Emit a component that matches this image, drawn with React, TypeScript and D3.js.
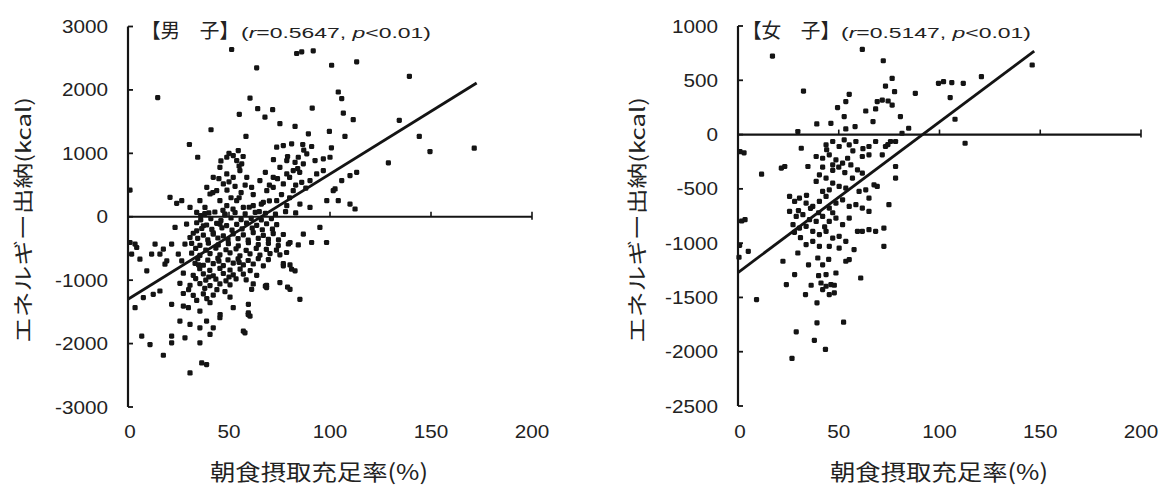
import React from "react";
import * as d3 from "d3";

type Pt = [number, number];

// x: 朝食摂取充足率(%), y: エネルギー出納(kcal)
const xTicks = [0, 50, 100, 150, 200];
const boysYTicks = [3000, 2000, 1000, 0, -1000, -2000, -3000];
const girlsYTicks = [1000, 500, 0, -500, -1000, -1500, -2000, -2500];

const boysR = "0.5647";
const girlsR = "0.5147";
const pValue = "0.01";

// regression lines (start, end)
const boysFit: Pt[] = [[0, -1300], [172.6, 2109]];
const girlsFit: Pt[] = [[0, -1271], [147, 769]];

const boysPoints: Pt[] = [
  // upper area
  [51.3, 2637], [63.7, 2347], [83.5, 2574], [86, 2600], [91.7, 2616], [100.8, 2389], [14.7, 1878],
  [60.4, 1872], [64.2, 1704], [67.8, 1571], [71.6, 1688], [55.1, 1614], [91.2, 1714], [41.1, 1372],
  [58.4, 1266], [75.2, 1467], [82.7, 1424], [89.3, 1308], [99.7, 1345], [30.4, 1139], [34.5, 938],
  [100.7, 1087], [100, 938], [54.6, 1044], [52.1, 965], [48.9, 938], [53.8, 886], [56.3, 834],
  [73.6, 1097], [76.9, 1123], [81, 1150], [86.5, 1139], [90.9, 1108], [78.6, 886], [82.7, 859],
  [86.8, 834], [84.3, 938], [88.5, 992], [92.6, 886], [96.7, 913], [45.5, 780], [48.9, 675],
  [52.1, 622], [47.2, 517], [42.2, 622], [39, 464], [43.9, 411], [55.4, 728], [58.8, 622],
  [61.2, 464], [65.3, 570], [68.7, 411], [71.9, 622], [75.2, 780], [78.6, 675], [81.8, 728],
  [71.9, 464], [76.9, 517], [81.8, 411], [86, 543], [90.1, 570], [93.4, 675], [96.7, 728],
  [40.6, 359], [35.6, 253], [30.7, 147], [34, 68], [38.1, 147], [20.8, 306], [24.1, 211],
  [26.6, 253], [101.6, 411], [104.1, 253], [98.4, 253], [85.1, 200], [90.1, 147], [78.6, 174],
  [73.6, 253], [67, 227], [62, 174], [57.1, 147], [53.8, 253], [48.9, 174], [45.5, 253],
  [45, 600], [50, 550], [42, 380], [55, 300], [60, 150], [65, 80], [70, 250], [62, 350],
  [58, 500], [68, 700], [72, 900], [80, 620], [84, 760], [88, 450], [76, 350], [66, 200],
  [52, 120], [40, 60], [36, 20], [48, 30], [1, 420],
  [38, 50], [43, 75], [48, 40], [53, 65], [58, 45], [63, 70], [68, 55], [73, 40], [78, 80], [83, 60],
  [47, 100], [51, 300], [49, 420], [53, 480], [56, 380], [46, 880], [50, 1000], [57, 950],
  [55, 800], [80, 300], [83, 500], [85, 700], [79, 950], [87, 1050], [74, 600], [70, 500],
  // right side
  [113.2, 2442], [139.3, 2215], [104.1, 1967], [105.8, 1862], [106.6, 1635], [111.5, 1530],
  [107.4, 1266], [134.3, 1519], [144.2, 1266], [149.5, 1028], [171.4, 1081], [128.9, 850],
  [113.2, 701], [109.9, 649], [105.8, 570], [102.5, 438], [109.9, 200], [112.4, 122],
  // below zero
  [23.3, -169], [29, -116], [34, -222], [30.7, -327], [37.3, -142], [42.2, -274], [45.5, -116],
  [1, -406], [3.5, -432], [1.8, -590], [5.9, -669], [9.3, -854], [4.3, -485],
  [13.4, -432], [17.5, -511], [21.6, -432], [15.8, -590], [11.7, -590], [19.2, -696],
  [24.9, -590], [28.2, -432], [26.6, -696], [18.3, -748],
  [34, -95], [38.9, -130], [43.9, -105], [48.8, -140], [53.8, -120], [58.7, -100], [63.7, -135],
  [68.6, -110], [73.6, -125],
  [32.3, -260], [37.3, -290], [42.2, -255], [47.2, -300], [52.1, -270], [57.1, -285], [62, -250],
  [67, -295], [71.9, -265], [76.9, -280],
  [31.5, -420], [35.6, -450], [39.8, -415], [44.7, -445], [49.7, -425], [54.6, -460], [59.6, -410],
  [64.5, -440], [69.5, -420], [74.4, -455], [79.4, -430], [84.3, -445],
  [31.5, -575], [35.6, -610], [40.6, -580], [45.5, -600], [50.5, -570], [55.4, -615], [60.4, -585],
  [65.3, -605], [70.3, -580], [75.2, -600],
  [33.2, -735], [37.3, -765], [42.2, -740], [47.2, -770], [52.1, -730], [57.1, -760], [62, -745],
  [67, -775], [76.9, -740], [80.2, -760],
  [27.4, -890], [32.3, -925], [37.3, -900], [42.2, -930], [47.2, -895], [52.1, -915], [57.1, -905],
  [63.7, -925],
  [25.7, -1050], [30.7, -1080], [35.6, -1055], [40.6, -1085], [45.5, -1060], [50.5, -1075],
  [62, -1060], [68.6, -1080],
  [27.4, -1210], [32.3, -1240], [37.3, -1215], [42.2, -1235],
  [36.5, -185], [41.5, -200], [46.5, -175], [51.5, -210], [56.5, -190], [61.5, -180], [66.5, -205],
  [71.5, -195],
  [34.5, -340], [39.5, -365], [44.5, -335], [49.5, -360], [54.5, -345], [59.5, -370], [64.5, -340],
  [69.5, -355], [74.5, -365],
  [33.5, -500], [38.5, -525], [43.5, -495], [48.5, -520], [53.5, -505], [58.5, -530], [63.5, -500],
  [68.5, -515], [73.5, -525],
  [34.5, -660], [39.5, -685], [44.5, -655], [49.5, -680], [54.5, -665], [59.5, -690], [64.5, -660],
  [69.5, -675],
  [35.5, -820], [40.5, -845], [45.5, -815], [50.5, -840], [55.5, -825], [60.5, -850],
  [33.5, -975], [38.5, -1000], [43.5, -985], [48.5, -1010], [53.5, -980], [58.5, -995],
  [36, -50], [41, -30], [46, -60], [51, -20], [56, -45], [61, -25], [66, -50], [71, -30],
  [35, -760], [45, -700], [55, -720], [40, -950], [50, -950], [38, -1130], [44, -1150],
  [48, -1180], [34, -1320], [39, -1290], [30, -1150],
  [50.5, -1266], [61.2, -1144], [68.6, -1118], [75.2, -1039], [80.2, -1144], [85.1, -1303],
  [59.6, -1382], [52.1, -1434], [45.5, -1593], [40.6, -1355], [35.6, -1487], [29.9, -1434],
  [25.7, -1646], [30.7, -1698], [35.6, -1751], [38.9, -1646], [42.2, -1751], [40.6, -1856],
  [35.6, -1988], [36.5, -2305], [38.9, -2331], [30.7, -2463], [21.6, -1382], [27.4, -1408],
  [15.8, -1171], [12.5, -1224], [7.6, -1276], [3.5, -1434], [6.8, -1883], [10.9, -2015],
  [17.5, -2184], [21.6, -1883], [21.6, -1988], [28.2, -1909], [59.6, -1514], [60.4, -1566],
  [57.1, -1804], [57.9, -1830], [76.9, -775], [81, -828], [82.7, -854], [80.2, -406],
  [86.8, -274], [90.9, -406], [95, -169], [98.3, -406], [78.5, -564], [45.6, -1542], [59.5, -1542],
  [68, -1095], [79, -1110],
];

const girlsPoints: Pt[] = [
  // above zero
  [17.1, 723], [61.7, 784], [72.1, 680], [76.5, 517], [73.2, 447], [77.7, 395], [88, 380],
  [32.5, 401], [55.2, 370], [53.5, 303], [69.1, 303], [71.6, 318], [74.5, 309], [76.5, 272],
  [49.4, 248], [63.4, 217], [68.3, 236], [52.7, 165], [80.6, 165], [67, 119], [39.1, 98],
  [46.1, 104], [53.5, 52], [58.1, 73], [29.7, 28], [84.7, 58], [81.4, 12],
  [99.5, 472], [102, 487], [106.1, 478], [111.8, 472], [120.8, 533], [105.3, 340], [107.7, 141],
  [112.7, -80], [146, 641],
  // below zero
  [11.7, -365], [21.5, -309], [23.2, -294], [31.4, -126], [34.7, -294], [3.5, -784], [5.1, -1075],
  [22.3, -1167], [28.1, -1290], [29.7, -1091], [39.6, -1137], [24, -1382], [36.3, -1388],
  [41.2, -1367], [43.7, -1397], [46.1, -1382], [43.7, -1290], [48.6, -1275], [53.5, -1167],
  [55.2, -1152], [57.6, -1060], [60.9, -1321], [72.4, -1029], [72.4, -861], [68.3, -892],
  [65, -876], [61.7, -892], [59.3, -892], [78.2, -401], [74.9, -646], [78.2, -294], [67.5, -463],
  [69.1, -478], [59.3, -325], [61.7, -355], [56.8, -401],
  [43.7, -95], [47, -64], [50.2, -110], [52.7, -49], [55.2, -95], [58.5, -64], [65, -110],
  [68.3, -64], [73.2, -110], [75.7, -64], [45.3, -187], [48.6, -233], [51.9, -263], [54.4, -218],
  [47, -279], [38.8, -202], [42, -218], [61.7, -202], [65, -187], [71.6, -187], [78.2, -64],
  [25.6, -570], [28.1, -616], [30.5, -585], [33.8, -631], [37.1, -662], [40.4, -616], [43.7, -570],
  [45.3, -677], [48.6, -631], [51.9, -601], [55.2, -662], [58.5, -646], [61.7, -677], [65, -708],
  [25.6, -708], [28.9, -754], [32.2, -738], [35.5, -784], [38.8, -800], [42, -754], [45.3, -800],
  [48.6, -769], [51.9, -830], [55.2, -769], [27.3, -830], [30.5, -861], [33.8, -846], [37.1, -892],
  [40.4, -922], [43.7, -892], [47, -953], [50.2, -938], [53.5, -984], [37.1, -984], [40.4, -1029],
  [33.8, -1014], [45.3, -1029], [50.2, -1045], [43.7, -401], [47, -447], [50.2, -478],
  [53.5, -493], [42, -524], [45.3, -509], [40.4, -371], [38.8, -432], [60.1, -524], [63.4, -509],
  [65, -585],
  [42, -300], [47, -330], [50, -300], [53, -350], [56, -280], [44, -140], [57, -150], [62, -130],
  [36, -680], [30, -700], [34, -560], [28, -900], [31, -950], [40, -720], [43, -850], [47, -720],
  [35, -1200], [42, -1200], [45, -1150], [40, -1300],
  [9.2, -1520], [47.8, -1388], [42, -1428], [45.3, -1474], [47.8, -1458], [39.2, -1550],
  [33.5, -1474], [39.2, -1734], [52.4, -1728], [28.9, -1817], [37.9, -1896], [43.4, -1979],
  [26.8, -2062],
  [3, -168], [1.8, -796], [0.8, -1020], [0.5, -1130], [1, -157], [74.4, -92],
];

const TEXT = "#222";
const INK = "#141414";

function SText(props: {
  x: number;
  y: number;
  size: number;
  anchor?: string;
  sx?: number;
  children: React.ReactNode;
}) {
  const { x, y, size, anchor = "middle", sx = 1.15, children } = props;
  return (
    <text
      transform={`translate(${x},${y}) scale(${sx},1)`}
      fontSize={size}
      textAnchor={anchor}
      fill={TEXT}
      fontFamily="'Liberation Sans', Arial, sans-serif"
    >
      {children}
    </text>
  );
}

function Panel(props: {
  xRange: [number, number];
  yDomain: [number, number];
  yRange: [number, number];
  yTicks: number[];
  points: Pt[];
  fit: Pt[];
  group: string;
  r: string;
  titleX: number;
  statsX: number;
  yTitleX: number;
  xTitleX: number;
}) {
  const { xRange, yDomain, yRange, yTicks, points, fit, group, r, titleX, statsX, yTitleX, xTitleX } = props;
  const x = d3.scaleLinear().domain([0, 200]).range(xRange);
  const y = d3.scaleLinear().domain(yDomain).range(yRange);
  const x0 = x(0);
  const y0 = y(0);
  const line = d3
    .line<Pt>()
    .x((d) => x(d[0]))
    .y((d) => y(d[1]));
  const jp = "'Noto Sans CJK JP', sans-serif";

  return (
    <g>
      {/* dots */}
      {points.map((d, i) => (
        <rect key={i} x={x(d[0]) - 2.6} y={y(d[1]) - 2.6} width={5.2} height={5.2} rx={1.4} fill={INK} />
      ))}

      {/* y axis */}
      <line x1={x0} x2={x0} y1={y(yDomain[1])} y2={y(yDomain[0])} stroke={INK} strokeWidth={2.2} />
      {yTicks.map((t) => (
        <line key={t} x1={x0} x2={x0 + 5} y1={y(t)} y2={y(t)} stroke={INK} strokeWidth={1.8} />
      ))}
      {/* x axis through zero */}
      <line x1={x0} x2={x(200)} y1={y0} y2={y0} stroke={INK} strokeWidth={2.2} />
      {xTicks.slice(1).map((t) => (
        <line key={t} x1={x(t)} x2={x(t)} y1={y0 - 5} y2={t === 200 ? y0 + 3 : y0} stroke={INK} strokeWidth={1.6} />
      ))}

      {/* regression line */}
      <path d={line(fit) || ""} fill="none" stroke={INK} strokeWidth={2.8} />

      {/* tick labels */}
      {yTicks.map((t) => (
        <SText key={t} x={x0 - 20} y={y(t) + 6.5} size={18} anchor="end">
          {t}
        </SText>
      ))}
      {xTicks.map((t) => (
        <SText key={t} x={x(t) + (t === 0 ? 2 : 0)} y={438} size={18}>
          {t}
        </SText>
      ))}

      {/* axis titles */}
      <text
        x={xTitleX}
        y={480}
        fontSize={22}
        textAnchor="middle"
        fill={TEXT}
        fontFamily={jp}
        textLength={218}
        lengthAdjust="spacingAndGlyphs"
      >
        朝食摂取充足率(%)
      </text>
      <text
        transform={`translate(${yTitleX},220) rotate(-90)`}
        dy="0.35em"
        fontSize={20}
        textAnchor="middle"
        fill={TEXT}
        fontFamily={jp}
        textLength={246}
        lengthAdjust="spacingAndGlyphs"
      >
        エネルギー出納(kcal)
      </text>

      {/* panel title */}
      <text x={titleX} y={38} fontSize={20} fill={TEXT} fontFamily={jp} textLength={98} lengthAdjust="spacingAndGlyphs">
        【{group}　子】
      </text>
      <text
        x={statsX}
        y={38}
        fontSize={15.5}
        fill={TEXT}
        fontFamily="'Liberation Sans', Arial, sans-serif"
        textLength={190}
        lengthAdjust="spacingAndGlyphs"
      >
        (<tspan fontStyle="italic">r</tspan>={r}, <tspan fontStyle="italic">p</tspan>&lt;{pValue})
      </text>
    </g>
  );
}

export default function App() {
  return (
    <svg
      width={1163}
      height={486}
      style={{ position: "absolute", left: 0, top: 0, background: "#fff" }}
    >
      <Panel
        xRange={[128, 532]}
        yDomain={[-3000, 3000]}
        yRange={[407, 26.5]}
        yTicks={boysYTicks}
        points={boysPoints}
        fit={boysFit}
        group="男"
        r={boysR}
        titleX={141}
        statsX={241}
        yTitleX={24}
        xTitleX={319}
      />
      <Panel
        xRange={[738, 1141]}
        yDomain={[-2500, 1000]}
        yRange={[406, 26]}
        yTicks={girlsYTicks}
        points={girlsPoints}
        fit={girlsFit}
        group="女"
        r={girlsR}
        titleX={742}
        statsX={841}
        yTitleX={638}
        xTitleX={939}
      />
    </svg>
  );
}
